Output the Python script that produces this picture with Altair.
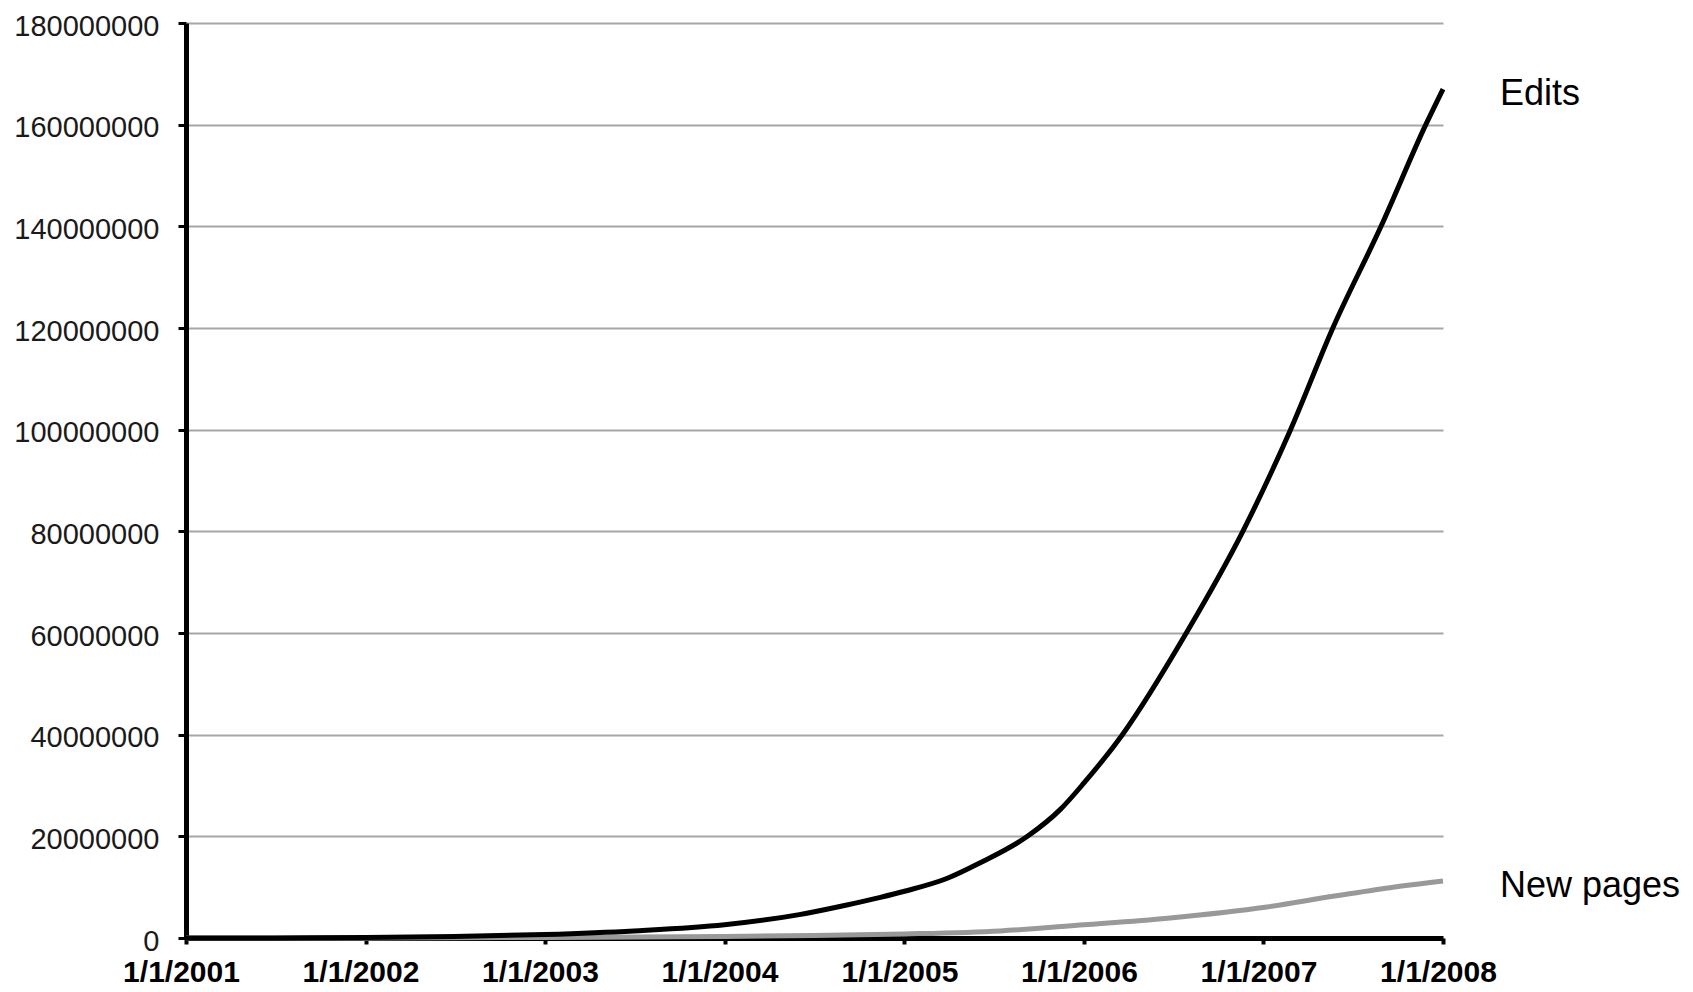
import altair as alt
import pandas as pd

# ---- data (values in millions) ----
edit_dates = [
    "2001-01-01", "2001-07-01", "2002-01-01", "2002-07-01", "2003-01-01",
    "2003-07-01", "2004-01-01", "2004-06-01", "2004-09-01", "2004-11-13",
    "2005-01-01", "2005-03-28", "2005-06-04", "2005-09-08", "2005-11-14",
    "2006-01-01", "2006-03-20", "2006-07-28", "2006-11-20",
    "2007-02-25", "2007-05-22", "2007-08-28", "2007-11-27", "2008-01-01",
]
edit_values_m = [
    0.0, 0.02, 0.1, 0.3, 0.7,
    1.4, 2.6, 4.6, 6.4, 8.0,
    9.2, 11.7, 14.8, 20.0, 25.3,
    30.5, 40.0, 60.0, 80.0,
    100.0, 120.0, 140.0, 160.0, 167.0,
]

page_dates = [
    "2001-01-01", "2002-01-01", "2003-01-01", "2004-01-01", "2004-07-01",
    "2005-01-01", "2005-07-15", "2006-01-01", "2006-06-20", "2007-01-08",
    "2007-05-22", "2007-09-15", "2008-01-01",
]
page_values_m = [
    0.0, 0.02, 0.1, 0.3, 0.5,
    0.8, 1.4, 2.6, 3.9, 6.1,
    8.2, 9.9, 11.2,
]

series_labels = ["Edits", "New pages"]
tick_years = [2001, 2002, 2003, 2004, 2005, 2006, 2007, 2008]
y_ticks = [0, 20000000, 40000000, 60000000, 80000000, 100000000,
           120000000, 140000000, 160000000, 180000000]

# ---- tables ----
edits = pd.DataFrame({
    "date": [d + "T00:00:00" for d in edit_dates],
    "value": [v * 1_000_000 for v in edit_values_m],
})
pages = pd.DataFrame({
    "date": [d + "T00:00:00" for d in page_dates],
    "value": [v * 1_000_000 for v in page_values_m],
})
labels = pd.DataFrame({
    "date": [edit_dates[-1] + "T00:00:00", page_dates[-1] + "T00:00:00"],
    "value": [edit_values_m[-1] * 1_000_000, page_values_m[-1] * 1_000_000],
    "label": series_labels,
})

FONT = "Liberation Sans"

x_enc = alt.X(
    "date:T",
    scale=alt.Scale(domain=[alt.DateTime(year=2001, month=1, date=1),
                            alt.DateTime(year=2008, month=1, date=1)]),
    axis=alt.Axis(
        title=None,
        values=[alt.DateTime(year=y, month=1, date=1) for y in tick_years],
        format="1/1/%Y",
        grid=False,
        domainColor="black", domainWidth=5,
        tickColor="black", tickWidth=4, tickSize=6,
        labelFont=FONT, labelFontSize=30, labelFontWeight="bold",
        labelColor="black", labelPadding=13, labelOffset=-5,
        labelFlush=False, labelOverlap=False, labelBound=False,
    ),
)
y_enc = alt.Y(
    "value:Q",
    scale=alt.Scale(domain=[0, 180000000], nice=False),
    axis=alt.Axis(
        title=None,
        values=y_ticks,
        format="d",
        grid=True, gridColor="#a6a6a6", gridWidth=2,
        domainColor="black", domainWidth=5,
        tickColor="black", tickWidth=3, tickSize=8,
        labelFont=FONT, labelFontSize=29, labelColor="#1a1a1a",
        labelPadding=19, labelOffset=3, labelBaseline="middle",
        labelOverlap=False,
    ),
)

pages_line = alt.Chart(pages).mark_line(
    color="#999999", strokeWidth=5, interpolate="monotone"
).encode(x=x_enc, y=y_enc)

edits_line = alt.Chart(edits).mark_line(
    color="black", strokeWidth=5, interpolate="monotone"
).encode(x="date:T", y="value:Q")

label_text = alt.Chart(labels).mark_text(
    align="left", baseline="middle", dx=57, dy=5, fontSize=36, font=FONT,
    color="black",
).encode(x="date:T", y="value:Q", text="label:N")

chart = alt.layer(pages_line, edits_line, label_text).properties(
    width=1257,
    height=915,
    autosize=alt.AutoSizeParams(type="none"),
    padding={"left": 178, "top": 15, "right": 242, "bottom": 48},
    background="white",
).configure_view(stroke=None)

chart.save("out.html", embed_options={"renderer": "svg", "actions": False})
